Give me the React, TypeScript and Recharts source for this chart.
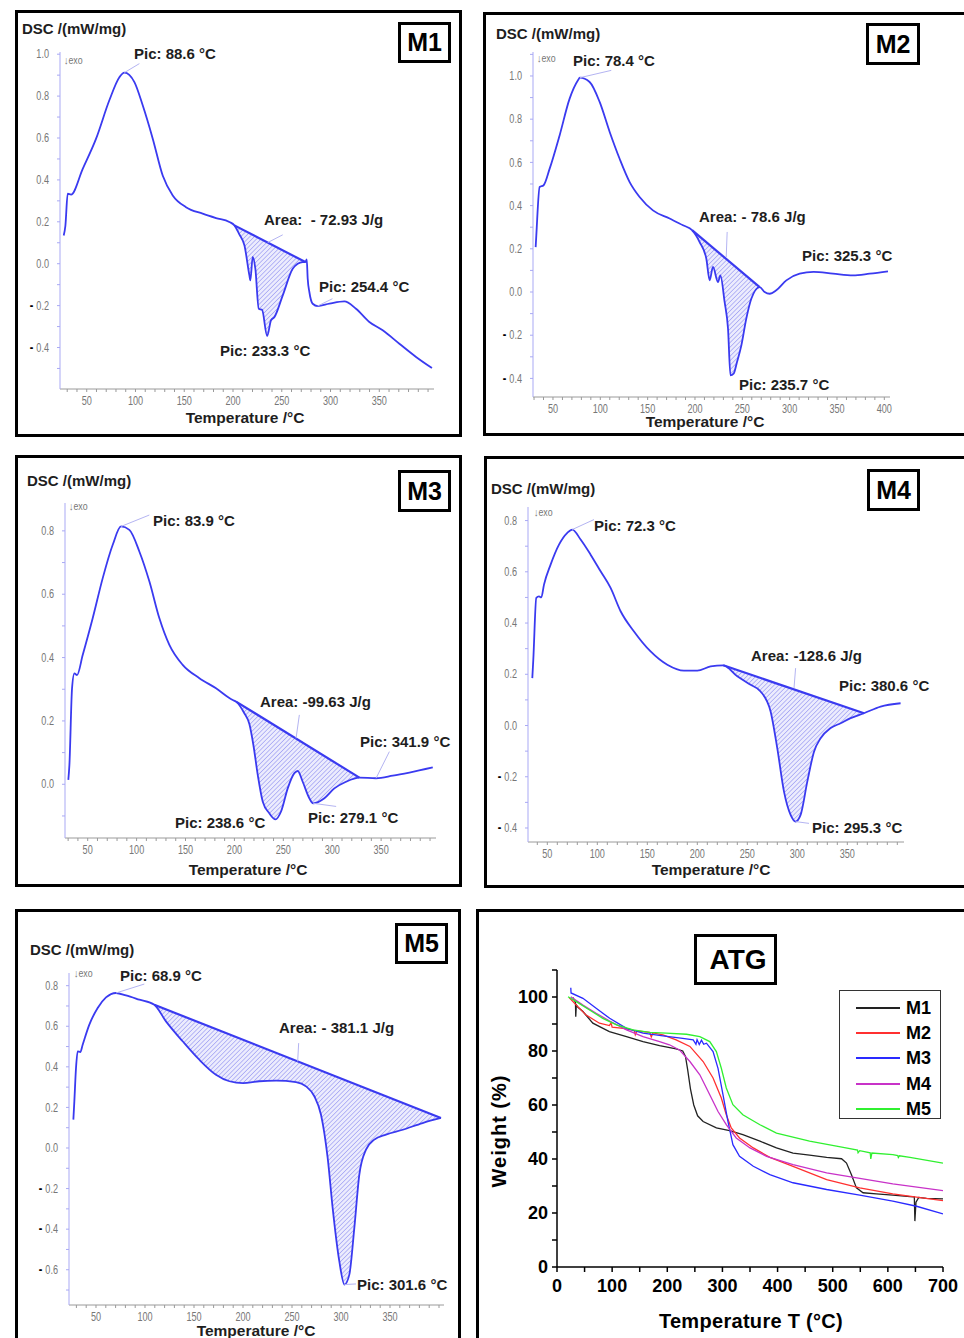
import React from "react";
import { ComposedChart, LineChart, Line, Area, XAxis, YAxis, ReferenceLine } from "recharts";

const FONT = '"Liberation Sans", Arial, Helvetica, sans-serif';
const DSC_BLUE = "#3a3af0";
const AXIS_BLUE = "#a9a9f4";
const LEADER = "#b4b4f2";

// ---------- DSC curves (temperature °C, DSC mW/mg) ----------
const m1Temp = [26.4, 28.1, 30.5, 33.9, 45.9, 59.6, 73.2, 83.5, 88.6, 98.9, 107.4, 117.7, 128, 138.2, 151.8, 168.9, 182.6, 196.3, 201.4, 206.5, 211.7, 216.8, 217.8, 220.2, 222.9, 226.4, 229.8, 235, 239, 242.4, 251, 261.2, 266.3, 271.5, 274.2, 275.6, 276.6, 278.3, 281.7, 286.8, 298.8, 314.2, 326.1, 339.8, 353.5, 370.6, 387.7, 404];
const m1Dsc = [0.135, 0.18, 0.334, 0.33, 0.453, 0.597, 0.78, 0.89, 0.912, 0.867, 0.756, 0.597, 0.42, 0.326, 0.27, 0.239, 0.218, 0.199, 0.183, 0.14, 0.088, -0.056, -0.08, 0.032, -0.024, -0.215, -0.22, -0.345, -0.27, -0.255, -0.151, -0.024, 0, 0.008, 0.008, 0.02, -0.072, -0.135, -0.191, -0.202, -0.191, -0.18, -0.215, -0.278, -0.318, -0.382, -0.445, -0.498];
const m1Chord = [201.4, 274.2];
const m1YLabels = [1.0, 0.8, 0.6, 0.4, 0.2, 0.0, -0.2, -0.4];
const m1XLabels = [50, 100, 150, 200, 250, 300, 350];

const m2Temp = [31.7, 32.4, 35.9, 40.1, 46.5, 57, 67.6, 76.4, 78.4, 88.7, 99.3, 109.9, 120.4, 131, 141.5, 155.6, 173.2, 187.3, 197.2, 204.9, 212, 215.5, 219, 224.3, 226.8, 231.3, 234.9, 237.5, 240.8, 244.4, 249, 254.2, 259.5, 268.3, 273.6, 278.9, 285.9, 296.5, 310.6, 325.3, 345.8, 366.9, 384.5, 403.9];
const m2Dsc = [0.208, 0.262, 0.486, 0.494, 0.571, 0.725, 0.895, 0.98, 0.992, 0.972, 0.88, 0.741, 0.617, 0.509, 0.44, 0.378, 0.34, 0.309, 0.285, 0.231, 0.154, 0.054, 0.116, 0.046, 0.077, -0.046, -0.17, -0.386, -0.378, -0.324, -0.247, -0.123, -0.031, 0.023, 0, -0.008, 0.008, 0.054, 0.085, 0.093, 0.085, 0.077, 0.085, 0.096];
const m2Chord = [197.2, 268.3];
const m2YLabels = [1.0, 0.8, 0.6, 0.4, 0.2, 0.0, -0.2, -0.4];
const m2XLabels = [50, 100, 150, 200, 250, 300, 350, 400];

const m3Temp = [30.2, 31.3, 34, 36.4, 39.1, 44.9, 55.1, 65.3, 75.6, 84.1, 92.6, 102.8, 113.1, 123.3, 133.5, 147.1, 164.2, 181.2, 198.3, 201.7, 210, 215.3, 219.4, 223.9, 229, 235.8, 241.9, 247.7, 254.5, 261.3, 264.7, 269.8, 276.6, 280.5, 292, 302.2, 314.1, 327.8, 344.8, 361.9, 378.9, 402.8];
const m3Dsc = [0.014, 0.061, 0.303, 0.35, 0.345, 0.408, 0.524, 0.65, 0.756, 0.814, 0.803, 0.735, 0.64, 0.524, 0.44, 0.377, 0.335, 0.303, 0.266, 0.261, 0.225, 0.19, 0.124, 0.029, -0.055, -0.092, -0.111, -0.086, -0.013, 0.035, 0.042, 0.008, -0.044, -0.06, -0.044, -0.013, 0.008, 0.021, 0.019, 0.027, 0.037, 0.053];
const m3Chord = [201.7, 327.8];
const m3YLabels = [0.8, 0.6, 0.4, 0.2, 0.0];
const m3XLabels = [50, 100, 150, 200, 250, 300, 350];

const m4Temp = [35, 36, 39, 41.7, 44, 46.7, 53.3, 61.7, 70, 75, 83.3, 93.3, 103.3, 113.3, 123.3, 136.7, 153.3, 170, 186.7, 200, 213.3, 226, 240, 253.3, 263.3, 273.3, 280, 286.7, 293.3, 298.3, 303.3, 310, 316.7, 323.3, 333.3, 343.3, 353.3, 366.7, 383.3, 403.3];
const m4Dsc = [0.185, 0.257, 0.498, 0.504, 0.5, 0.55, 0.628, 0.706, 0.752, 0.765, 0.726, 0.667, 0.602, 0.537, 0.446, 0.367, 0.289, 0.237, 0.214, 0.214, 0.231, 0.235, 0.192, 0.159, 0.133, 0.055, -0.089, -0.258, -0.349, -0.375, -0.349, -0.219, -0.102, -0.05, -0.01, 0.009, 0.029, 0.048, 0.074, 0.087];
const m4Chord = [226, 366.7];
const m4YLabels = [0.8, 0.6, 0.4, 0.2, 0.0, -0.2, -0.4];
const m4XLabels = [50, 100, 150, 200, 250, 300, 350];

const m5Temp = [26.9, 27.9, 29.6, 31.3, 34, 36.4, 43.2, 51.7, 60.2, 70.4, 80.6, 94.2, 109.5, 121.4, 138.4, 155.4, 172.4, 186.1, 200, 216.7, 233.7, 254.1, 264.3, 272.8, 279.6, 286.4, 291.5, 298.3, 303.5, 308.5, 313.6, 318.7, 325.5, 334, 345.9, 363, 383.3, 402];
const m5Dsc = [0.14, 0.23, 0.394, 0.476, 0.473, 0.509, 0.608, 0.69, 0.742, 0.764, 0.752, 0.731, 0.706, 0.624, 0.526, 0.435, 0.361, 0.329, 0.32, 0.329, 0.332, 0.325, 0.304, 0.255, 0.164, -0.049, -0.296, -0.559, -0.673, -0.624, -0.394, -0.131, -0.008, 0.041, 0.066, 0.09, 0.123, 0.148];
const m5Chord = [109.5, 402];
const m5YLabels = [0.8, 0.6, 0.4, 0.2, 0.0, -0.2, -0.4, -0.6];
const m5XLabels = [50, 100, 150, 200, 250, 300, 350];

// ---------- ATG curves (temperature °C, weight %) ----------
const atgM1T = [29, 33.5, 34, 35, 38, 47, 65, 95, 126, 156, 186, 216, 228, 233, 237, 242, 248, 255, 265, 289, 313, 337, 368, 398, 428, 458, 489, 516, 525, 534, 543, 555, 579, 609, 640, 648, 649, 651, 656, 670, 700];
const atgM1W = [99.8, 98, 92.7, 97, 96.2, 94.6, 90.3, 87.2, 85.3, 83.5, 82, 80.8, 80, 78, 73, 66, 60, 56, 53.9, 51.5, 50.5, 49, 46.6, 44.1, 42.2, 41.4, 40.6, 40.1, 38.5, 34.2, 29.3, 27.5, 27.1, 26.6, 26.1, 26, 17, 24, 25.8, 25.4, 25.2];
const atgM2T = [22, 35, 53, 77, 95, 98, 100, 120, 140, 142, 145, 168, 171, 174, 192, 216, 241, 265, 283, 298, 307, 316, 331, 356, 386, 428, 489, 549, 609, 652, 700];
const atgM2W = [99.8, 97, 93.3, 90.3, 89.4, 90.4, 88.8, 88.4, 87.6, 86, 87.4, 86.9, 85.2, 86.7, 86, 84.1, 81.7, 76.1, 70, 62.6, 56.4, 51.5, 47.8, 44.1, 40.6, 37.3, 32.4, 29.3, 27.1, 25.9, 24.6];
const atgM3T = [25, 25.5, 47, 71, 95.5, 126, 156, 192, 228, 247, 252, 254, 258, 262, 266, 271, 283, 292, 301, 310, 319, 331, 356, 386, 428, 489, 549, 609, 652, 700];
const atgM3W = [103.4, 101.5, 99.5, 95.8, 92.1, 88.4, 86.6, 85.6, 84.7, 84.1, 82.5, 84.2, 82.4, 84, 82.5, 82.9, 79.8, 73.6, 63.8, 53.9, 45.3, 41, 37.3, 34.2, 31.2, 28.7, 26.6, 24.4, 22.5, 19.7];
const atgM4T = [25, 47, 71, 95.5, 126, 156, 186, 204, 222, 241, 259, 277, 292, 307, 325, 350, 380, 428, 489, 549, 609, 700];
const atgM4W = [100.1, 97, 94, 91.1, 87.8, 85.3, 83.5, 82.3, 80.4, 76.1, 71.2, 63.8, 57.6, 52.7, 47.8, 44.1, 41, 37.9, 34.9, 32.8, 30.8, 28.3];
const atgM5T = [20, 35, 59, 83, 108, 138, 168, 198, 235, 259, 277, 289, 298, 307, 319, 337, 368, 398, 458, 519, 545, 546, 549, 568, 569, 571, 609, 618, 619, 621, 640, 700];
const atgM5W = [100.1, 98.3, 95.2, 92.1, 89.7, 87.8, 86.9, 86.6, 86.2, 85.3, 83.5, 79.8, 73.6, 66.3, 60.1, 56.4, 52.7, 49.6, 46.6, 44.3, 43.3, 42.3, 43.1, 42.3, 40, 42.2, 41.6, 41.3, 40.6, 41.2, 40.6, 38.5];
const atgNames = ["M1", "M2", "M3", "M4", "M5"];
const atgColors = ["#222222", "#ff3030", "#2a2aff", "#c832c8", "#30f030"];
const atgYLabels = [0, 20, 40, 60, 80, 100];
const atgXLabels = [0, 100, 200, 300, 400, 500, 600, 700];

function range(a: number, b: number, step: number) {
  const out: number[] = [];
  for (let k = Math.round(a / step); k * step <= b + 1e-9; k++) out.push(Math.round(k * step * 1000) / 1000);
  return out;
}

type DscCfg = {
  temp: number[];
  dsc: number[];
  chord: number[];
  yLabels: number[];
  xLabels: number[];
  box: number[]; // plot area in page px: left, top, right, bottom
  xDomain: [number, number];
  yDomain: [number, number];
  leaders: number[][];
};

const makeXTick = (labels: number[]) => (p: any) => {
  const v = p.payload.value;
  if (!labels.includes(v)) return <g />;
  return (
    <g transform={`translate(${p.x},${p.y})`}>
      <text x={0} y={0} dy={8.5} textAnchor="middle" fontSize={12} fill="#777" transform="scale(0.76,1)">
        {v}
      </text>
    </g>
  );
};

const makeYTick = (labels: number[]) => (p: any) => {
  const v = p.payload.value;
  if (!labels.some((l) => Math.abs(l - v) < 1e-6)) return <g />;
  const neg = v < -1e-6;
  return (
    <g transform={`translate(${p.x},${p.y})`}>
      <text x={0} y={0} dy={4.2} textAnchor="end" fontSize={12} transform="scale(0.76,1)">
        {neg && (
          <tspan fill="#000" fontWeight="bold" fontSize={14}>
            -{" "}
          </tspan>
        )}
        <tspan fill="#777">{Math.abs(v).toFixed(1)}</tspan>
      </text>
    </g>
  );
};

function DscChart({ cfg }: { cfg: DscCfg }) {
  const [L, T, R, B] = cfg.box;
  const padL = 50, padT = 6, padR = 10, padB = 30;
  const curve = cfg.temp.map((t, i) => ({ t, v: cfg.dsc[i] }));
  const i0 = cfg.temp.indexOf(cfg.chord[0]);
  const i1 = cfg.temp.indexOf(cfg.chord[1]);
  const c0 = cfg.dsc[i0];
  const c1 = cfg.dsc[i1];
  const chordAt = (t: number) => c0 + ((c1 - c0) * (t - cfg.chord[0])) / (cfg.chord[1] - cfg.chord[0]);
  const band = curve.slice(i0, i1 + 1).map((p) => ({ t: p.t, band: [chordAt(p.t), p.v] }));
  const chord = [curve[i0], curve[i1]];
  const xTicks = range(Math.ceil(cfg.xDomain[0] / 10) * 10, cfg.xDomain[1], 10);
  const yTicks = range(Math.ceil(cfg.yDomain[0] * 10) / 10, cfg.yDomain[1], 0.1);
  return (
    <div style={{ position: "absolute", left: L - padL, top: T - padT, fontFamily: FONT }}>
      <ComposedChart
        width={R - L + padL + padR}
        height={B - T + padT + padB}
        margin={{ top: padT, right: padR, left: 0, bottom: 0 }}
      >
        <XAxis
          type="number"
          dataKey="t"
          domain={cfg.xDomain}
          allowDataOverflow
          ticks={xTicks}
          interval={0}
          height={padB}
          tickSize={3}
          tickMargin={4}
          axisLine={{ stroke: "#9a9a9a" }}
          tickLine={{ stroke: "#9a9a9a" }}
          tick={makeXTick(cfg.xLabels)}
        />
        <YAxis
          type="number"
          domain={cfg.yDomain}
          allowDataOverflow
          ticks={yTicks}
          interval={0}
          width={padL}
          tickSize={3}
          tickMargin={8}
          axisLine={{ stroke: AXIS_BLUE }}
          tickLine={{ stroke: AXIS_BLUE }}
          tick={makeYTick(cfg.yLabels)}
        />
        <Area
          data={band}
          dataKey="band"
          type="monotone"
          fill="url(#hatch)"
          fillOpacity={1}
          stroke="none"
          dot={false}
          activeDot={false}
          isAnimationActive={false}
        />
        <Line data={curve} dataKey="v" type="monotone" stroke={DSC_BLUE} strokeWidth={1.8} dot={false} activeDot={false} isAnimationActive={false} />
        <Line data={chord} dataKey="v" type="linear" stroke={DSC_BLUE} strokeWidth={2.2} dot={false} activeDot={false} isAnimationActive={false} />
        {cfg.leaders.map((s, k) => (
          <ReferenceLine
            key={k}
            segment={[{ x: s[0], y: s[1] }, { x: s[2], y: s[3] }]}
            stroke={LEADER}
            strokeWidth={1}
            ifOverflow="visible"
          />
        ))}
      </ComposedChart>
    </div>
  );
}

const dscPanels: DscCfg[] = [
  {
    temp: m1Temp, dsc: m1Dsc, chord: m1Chord, yLabels: m1YLabels, xLabels: m1XLabels,
    box: [60, 52, 434, 389], xDomain: [22.6, 406.1], yDomain: [-0.598, 1.0105],
    leaders: [[88.6, 0.912, 104, 0.955], [235.6, 0.101, 251, 0.138], [286.8, -0.202, 302, -0.167]],
  },
  {
    temp: m2Temp, dsc: m2Dsc, chord: m2Chord, yLabels: m2YLabels, xLabels: m2XLabels,
    box: [533, 52, 890, 397], xDomain: [28.9, 406], yDomain: [-0.486, 1.111],
    leaders: [[78.4, 0.992, 111.6, 1.026], [233, 0.162, 234, 0.278]],
  },
  {
    temp: m3Temp, dsc: m3Dsc, chord: m3Chord, yLabels: m3YLabels, xLabels: m3XLabels,
    box: [65, 503, 436, 838], xDomain: [26.8, 406.1], yDomain: [-0.1696, 0.888],
    leaders: [[84.1, 0.814, 113, 0.85], [263, 0.145, 266.4, 0.219], [344.8, 0.019, 358.4, 0.103], [280.5, -0.06, 304, -0.07]],
  },
  {
    temp: m4Temp, dsc: m4Dsc, chord: m4Chord, yLabels: m4YLabels, xLabels: m4XLabels,
    box: [528, 507, 904, 842], xDomain: [30.7, 406.7], yDomain: [-0.4547, 0.853],
    leaders: [[75, 0.765, 96.7, 0.804], [296.7, 0.146, 298.3, 0.224], [298.3, -0.375, 311.7, -0.382]],
  },
  {
    temp: m5Temp, dsc: m5Dsc, chord: m5Chord, yLabels: m5YLabels, xLabels: m5XLabels,
    box: [69, 973, 444, 1305], xDomain: [22.45, 405.1], yDomain: [-0.7738, 0.8625],
    leaders: [[70.4, 0.764, 99.3, 0.808], [255.8, 0.427, 256.8, 0.517], [303.5, -0.673, 315.3, -0.67]],
  },
];

function AtgChart() {
  const L = 557, T = 970, R = 943, B = 1267;
  const padL = 60, padT = 6, padR = 18, padB = 36;
  const series = [
    [atgM1T, atgM1W],
    [atgM2T, atgM2W],
    [atgM3T, atgM3W],
    [atgM4T, atgM4W],
    [atgM5T, atgM5W],
  ].map(([ts, ws]) => ts.map((t, i) => ({ t, w: ws[i] })));
  const tickStyle = { fontSize: 18, fontWeight: 700, fill: "#000" };
  return (
    <div style={{ position: "absolute", left: L - padL, top: T - padT, fontFamily: FONT }}>
      <LineChart width={R - L + padL + padR} height={B - T + padT + padB} margin={{ top: padT, right: padR, left: 0, bottom: 0 }}>
        <XAxis
          type="number"
          dataKey="t"
          domain={[0, 700]}
          allowDataOverflow
          ticks={range(0, 700, 50)}
          interval={0}
          height={padB}
          tickSize={5}
          tickMargin={7}
          axisLine={{ stroke: "#000", strokeWidth: 1.5 }}
          tickLine={{ stroke: "#000", strokeWidth: 1.5 }}
          tick={tickStyle}
          tickFormatter={(v: number) => (atgXLabels.includes(v) ? String(v) : "")}
        />
        <YAxis
          type="number"
          domain={[0, 110]}
          allowDataOverflow
          ticks={range(0, 110, 10)}
          interval={0}
          width={padL}
          tickSize={5}
          tickMargin={4}
          axisLine={{ stroke: "#000", strokeWidth: 1.5 }}
          tickLine={{ stroke: "#000", strokeWidth: 1.5 }}
          tick={tickStyle}
          tickFormatter={(v: number) => (atgYLabels.includes(v) ? String(v) : "")}
        />
        {series.map((d, k) => (
          <Line
            key={atgNames[k]}
            data={d}
            dataKey="w"
            name={atgNames[k]}
            type="linear"
            stroke={atgColors[k]}
            strokeWidth={1.3}
            dot={false}
            activeDot={false}
            isAnimationActive={false}
          />
        ))}
      </LineChart>
    </div>
  );
}

const Txt = ({ x, cy, size = 15, bold = true, color = "#1e1e1e", center = false, ls = 0, children }: any) => (
  <div
    style={{
      position: "absolute",
      left: x,
      top: cy - 0.49 * size,
      fontSize: size,
      lineHeight: 1,
      fontWeight: bold ? 700 : 400,
      color,
      whiteSpace: "nowrap",
      fontFamily: FONT,
      letterSpacing: ls,
      transform: center ? "translateX(-50%)" : undefined,
    }}
  >
    {children}
  </div>
);

const Exo = ({ x, y }: { x: number; y: number }) => (
  <div style={{ position: "absolute", left: x, top: y, fontSize: 11, lineHeight: 1, color: "#777", fontFamily: FONT, transform: "scaleX(0.8)", transformOrigin: "left" }}>
    ↓exo
  </div>
);

const frames = [
  [15, 10, 462, 437],
  [483, 12, 972, 436],
  [15, 455, 462, 887],
  [484, 456, 972, 888],
  [15, 909, 461, 1348],
  [476, 909, 972, 1348],
];

const tagBoxes: [number, number, number, number, string][] = [
  [398, 22, 451, 63, "M1"],
  [866, 23, 920, 65, "M2"],
  [398, 470, 451, 512, "M3"],
  [867, 469, 920, 511, "M4"],
  [395, 923, 448, 964, "M5"],
];

export default function App() {
  return (
    <div style={{ position: "absolute", left: 0, top: 0, width: 964, height: 1338, overflow: "hidden", background: "#fff", fontFamily: FONT }}>
      <svg width={0} height={0} style={{ position: "absolute" }}>
        <defs>
          <pattern id="hatch" width={3.2} height={3.2} patternUnits="userSpaceOnUse" patternTransform="rotate(45)">
            <rect width={3.2} height={3.2} fill="#ececfd" />
            <line x1={0} y1={0} x2={0} y2={3.2} stroke="#8a8af0" strokeWidth={1.1} />
          </pattern>
        </defs>
      </svg>

      {frames.map((f, k) => (
        <div
          key={k}
          style={{ position: "absolute", left: f[0], top: f[1], width: f[2] - f[0], height: f[3] - f[1], border: "3px solid #000", boxSizing: "border-box" }}
        />
      ))}

      {dscPanels.map((cfg, k) => (
        <DscChart key={k} cfg={cfg} />
      ))}
      <AtgChart />

      {tagBoxes.map(([l, t, r, b, s]) => (
        <div
          key={s}
          style={{
            position: "absolute", left: l, top: t, width: r - l, height: b - t, border: "3px solid #000", boxSizing: "border-box",
            background: "#fff", display: "flex", alignItems: "center", justifyContent: "center", fontSize: 25, fontWeight: 700, fontFamily: FONT,
          }}
        >
          {s}
        </div>
      ))}

      {/* M1 */}
      <Txt x={22} cy={28}>DSC /(mW/mg)</Txt>
      <Exo x={64} y={55} />
      <Txt x={134} cy={53}>Pic: 88.6 °C</Txt>
      <Txt x={264} cy={219}>Area:&nbsp; - 72.93 J/g</Txt>
      <Txt x={319} cy={286}>Pic: 254.4 °C</Txt>
      <Txt x={220} cy={350}>Pic: 233.3 °C</Txt>
      <Txt x={245} cy={418} size={15.5} center>Temperature /°C</Txt>

      {/* M2 */}
      <Txt x={496} cy={33}>DSC /(mW/mg)</Txt>
      <Exo x={537} y={53} />
      <Txt x={573} cy={60}>Pic: 78.4 °C</Txt>
      <Txt x={699} cy={216}>Area: - 78.6 J/g</Txt>
      <Txt x={802} cy={255}>Pic: 325.3 °C</Txt>
      <Txt x={739} cy={384}>Pic: 235.7 °C</Txt>
      <Txt x={705} cy={422} size={15.5} center>Temperature /°C</Txt>

      {/* M3 */}
      <Txt x={27} cy={480}>DSC /(mW/mg)</Txt>
      <Exo x={69} y={501} />
      <Txt x={153} cy={520}>Pic: 83.9 °C</Txt>
      <Txt x={260} cy={701}>Area: -99.63 J/g</Txt>
      <Txt x={360} cy={741}>Pic: 341.9 °C</Txt>
      <Txt x={175} cy={822}>Pic: 238.6 °C</Txt>
      <Txt x={308} cy={817}>Pic: 279.1 °C</Txt>
      <Txt x={248} cy={870} size={15.5} center>Temperature /°C</Txt>

      {/* M4 */}
      <Txt x={491} cy={488}>DSC /(mW/mg)</Txt>
      <Exo x={534} y={507} />
      <Txt x={594} cy={525}>Pic: 72.3 °C</Txt>
      <Txt x={751} cy={655}>Area: -128.6 J/g</Txt>
      <Txt x={839} cy={685}>Pic: 380.6 °C</Txt>
      <Txt x={812} cy={827}>Pic: 295.3 °C</Txt>
      <Txt x={711} cy={870} size={15.5} center>Temperature /°C</Txt>

      {/* M5 */}
      <Txt x={30} cy={949}>DSC /(mW/mg)</Txt>
      <Exo x={74} y={968} />
      <Txt x={120} cy={975}>Pic: 68.9 °C</Txt>
      <Txt x={279} cy={1027}>Area: - 381.1 J/g</Txt>
      <Txt x={357} cy={1284}>Pic: 301.6 °C</Txt>
      <Txt x={256} cy={1331} size={15.5} center>Temperature /°C</Txt>

      {/* ATG */}
      <div
        style={{
          position: "absolute", left: 694, top: 934, width: 83, height: 51, border: "3px solid #000", boxSizing: "border-box", background: "#fff",
          display: "flex", alignItems: "center", justifyContent: "center", paddingLeft: 5, fontSize: 28, fontWeight: 700, fontFamily: FONT,
        }}
      >
        ATG
      </div>
      <div
        style={{
          position: "absolute", left: 499, top: 1131, transform: "translate(-50%, -50%) rotate(-90deg)", fontSize: 20, fontWeight: 700,
          letterSpacing: 1, whiteSpace: "nowrap", lineHeight: 1, fontFamily: FONT,
        }}
      >
        Weight (%)
      </div>
      <Txt x={751} cy={1321} size={20} ls={0.3} center color="#000">Temperature T (°C)</Txt>

      <div style={{ position: "absolute", left: 839, top: 990, width: 102, height: 129, border: "1.5px solid #333", boxSizing: "border-box", background: "#fff" }}>
        {atgNames.map((n, k) => (
          <div key={n} style={{ position: "absolute", left: 16, top: 8 + k * 25.2, height: 18, display: "flex", alignItems: "center" }}>
            <div style={{ width: 44, height: 2, background: atgColors[k] }} />
            <div style={{ marginLeft: 6, fontSize: 18, fontWeight: 700, lineHeight: 1, color: "#000" }}>{n}</div>
          </div>
        ))}
      </div>
    </div>
  );
}
